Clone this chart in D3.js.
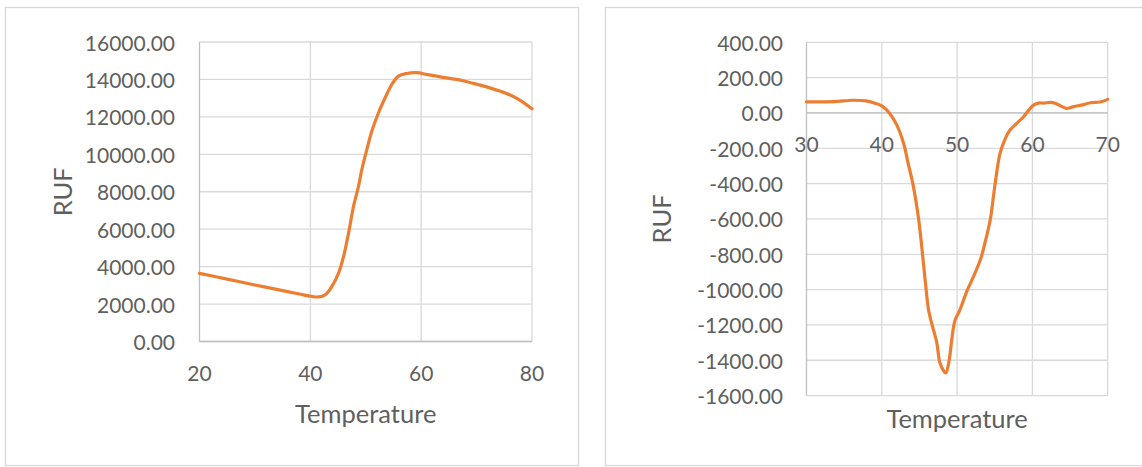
<!DOCTYPE html>
<html>
<head>
<meta charset="utf-8">
<script src="https://cdn.jsdelivr.net/npm/d3@7"></script>
<style>
  html, body { margin: 0; padding: 0; background: #fff; }
  svg { display: block; }
  text { font-family: Lato, "Open Sans", sans-serif; fill: #5f5f5f; }
</style>
</head>
<body>
<svg id="chart" width="1142" height="467"></svg>
<script>
// ---- Data ----
const leftTemps = [20, 25, 30, 35, 38, 40, 41.5, 42.7, 43.9, 45.1, 46.0, 46.9, 47.8, 48.7, 49.3, 50.2, 51.1, 52.3, 53.5, 54.7, 55.9, 57.4, 59.2, 61.0, 63.4, 66.4, 69.4, 72.4, 75.4, 77.8, 80];
const leftRUF   = [3640, 3330, 3020, 2720, 2540, 2420, 2380, 2500, 2950, 3660, 4550, 5800, 7230, 8300, 9190, 10260, 11240, 12220, 13020, 13730, 14180, 14320, 14360, 14270, 14140, 14000, 13790, 13550, 13250, 12900, 12430];

const rightTemps = [30, 33.6, 36.2, 37.9, 39.2, 40, 41.0, 42.0, 42.9, 43.5, 44.2, 44.9, 45.3, 45.75, 46.2, 46.6, 47.3, 47.7, 48.2, 48.5, 48.9, 49.3, 49.7, 50.4, 51.3, 52.2, 53.1, 53.7, 54.4, 55.0, 55.7, 56.4, 57.0, 57.9, 58.8, 59.5, 60.1, 60.8, 61.5, 62.4, 63.0, 63.7, 64.5, 65.5, 66.8, 67.7, 69.0, 70];
const rightRUF   = [63, 64, 72, 68, 54, 40, 0, -69, -173, -285, -417, -605, -755, -943, -1112, -1187, -1300, -1412, -1459, -1472, -1412, -1281, -1177, -1112, -1008, -924, -830, -736, -605, -417, -229, -145, -98, -60, -23, 15, 43, 56, 56, 60, 55, 41, 26, 36, 47, 58, 62, 77];

const leftXTicks  = [20, 40, 60, 80];
const leftYTicks  = [0, 2000, 4000, 6000, 8000, 10000, 12000, 14000, 16000];
const rightXTicks = [30, 40, 50, 60, 70];
const rightYTicks = [400, 200, 0, -200, -400, -600, -800, -1000, -1200, -1400, -1600];

const xTitle = "Temperature";
const yTitle = "RUF";

// ---- Drawing ----
const svg = d3.select("#chart");
const GRID = "#d9d9d9", AXIS = "#bfbfbf", LINE = "#ED7D31";
const tickSize = 21, titleSize = 25.5;
const fmt = d3.formatLocale({ decimal: ".", thousands: ",", grouping: [3], currency: ["$", ""], minus: "-" }).format(".2f");

function drawChart(cfg) {
  const g = svg.append("g");
  g.append("rect")
    .attr("x", cfg.frame[0] + 0.5).attr("y", cfg.frame[1] + 0.5)
    .attr("width", cfg.frame[2]).attr("height", cfg.frame[3])
    .attr("fill", "#fff").attr("stroke", GRID).attr("stroke-width", 1.3);

  const x = d3.scaleLinear().domain(cfg.xDomain).range([cfg.plot.left, cfg.plot.right]);
  const y = d3.scaleLinear().domain(cfg.yDomain).range([cfg.plot.bottom, cfg.plot.top]);

  g.append("g").selectAll("line").data(cfg.yTicks).join("line")
    .attr("x1", cfg.plot.left).attr("x2", cfg.plot.right)
    .attr("y1", d => y(d)).attr("y2", d => y(d))
    .attr("stroke", GRID).attr("stroke-width", 1.3);
  g.append("g").selectAll("line").data(cfg.xTicks).join("line")
    .attr("x1", d => x(d)).attr("x2", d => x(d))
    .attr("y1", cfg.plot.top).attr("y2", cfg.plot.bottom)
    .attr("stroke", d => d === cfg.xDomain[0] ? AXIS : GRID).attr("stroke-width", 1.3);
  g.append("line")
    .attr("x1", cfg.plot.left).attr("x2", cfg.plot.right)
    .attr("y1", y(cfg.xAxisAt)).attr("y2", y(cfg.xAxisAt))
    .attr("stroke", AXIS).attr("stroke-width", 1.3);

  g.append("g").selectAll("text").data(cfg.yTicks).join("text")
    .attr("x", cfg.yLabelRight).attr("y", d => y(d))
    .attr("text-anchor", "end").attr("dominant-baseline", "central")
    .style("font-size", tickSize + "px")
    .text(d => fmt(d));

  g.append("g").selectAll("text").data(cfg.xTicks).join("text")
    .attr("x", d => x(d)).attr("y", y(cfg.xAxisAt) + cfg.xLabelOffset)
    .attr("text-anchor", "middle").attr("dominant-baseline", "central")
    .style("font-size", tickSize + "px")
    .text(d => d);

  const line = d3.line()
    .x((d, i) => x(cfg.temps[i]))
    .y(d => y(d))
    .curve(d3.curveCatmullRom.alpha(0.5));
  g.append("path").datum(cfg.values)
    .attr("d", line)
    .attr("fill", "none").attr("stroke", LINE)
    .attr("stroke-width", 3.2).attr("stroke-linejoin", "round").attr("stroke-linecap", "round");

  g.append("text")
    .attr("x", (cfg.plot.left + cfg.plot.right) / 2).attr("y", cfg.xTitleY)
    .attr("text-anchor", "middle").attr("dominant-baseline", "central")
    .style("font-size", titleSize + "px").text(xTitle);
  g.append("text")
    .attr("transform", `translate(${cfg.yTitleX},${(cfg.plot.top + cfg.plot.bottom) / 2}) rotate(-90)`)
    .attr("text-anchor", "middle").attr("dominant-baseline", "central")
    .style("font-size", titleSize + "px").text(yTitle);
}

drawChart({
  frame: [5, 7, 573, 458],
  plot: { left: 199.5, right: 532, top: 42, bottom: 341.5 },
  xDomain: [20, 80], yDomain: [0, 16000],
  xTicks: leftXTicks, yTicks: leftYTicks,
  xAxisAt: 0, xLabelOffset: 31,
  yLabelRight: 175, xTitleY: 413, yTitleX: 62,
  temps: leftTemps, values: leftRUF
});

drawChart({
  frame: [605, 7, 560, 458],
  plot: { left: 806.5, right: 1107.7, top: 42.3, bottom: 395.6 },
  xDomain: [30, 70], yDomain: [-1600, 400],
  xTicks: rightXTicks, yTicks: rightYTicks,
  xAxisAt: 0, xLabelOffset: 31,
  yLabelRight: 783, xTitleY: 418, yTitleX: 661,
  temps: rightTemps, values: rightRUF
});
</script>
</body>
</html>
